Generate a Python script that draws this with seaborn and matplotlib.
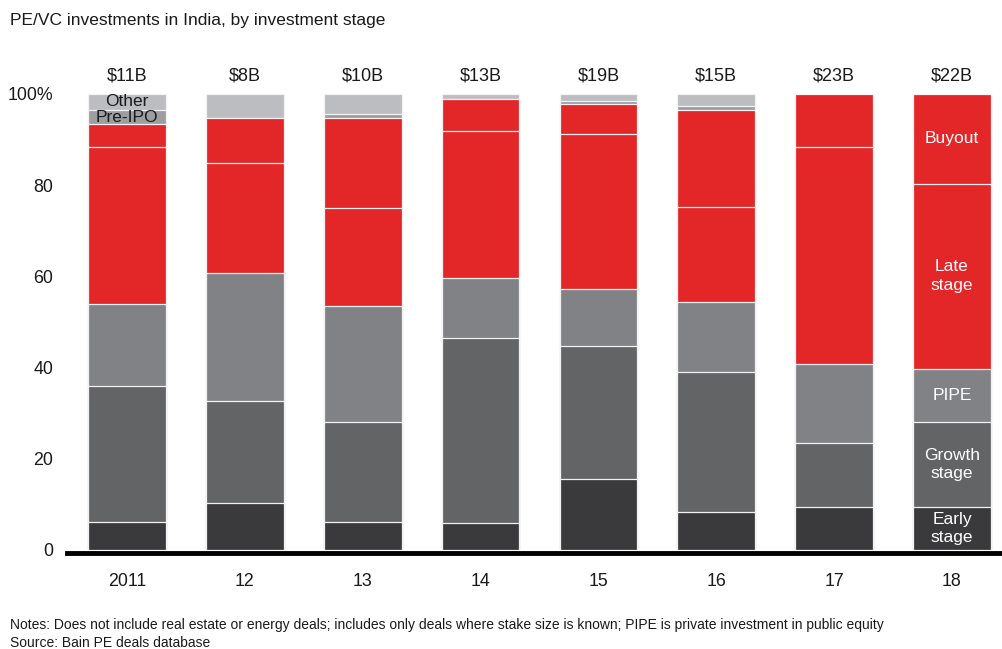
import matplotlib
matplotlib.use("Agg")
import matplotlib.pyplot as plt
import numpy as np
import seaborn as sns

# Deal value share by investment stage (% of annual total)
years = ["2011", "12", "13", "14", "15", "16", "17", "18"]
totals = ["$11B", "$8B", "$10B", "$13B", "$19B", "$15B", "$23B", "$22B"]

early = [6.2, 10.2, 6.1, 5.9, 15.5, 8.3, 9.4, 9.4]
growth = [29.8, 22.4, 22.0, 40.7, 29.3, 30.7, 14.1, 18.7]
pipe = [18.0, 28.1, 25.3, 13.1, 12.4, 15.4, 17.3, 11.7]
late = [34.3, 24.1, 21.7, 32.2, 34.0, 20.8, 47.5, 40.5]
buyout = [5.1, 10.0, 19.6, 6.9, 6.6, 21.2, 11.7, 19.7]
pre_ipo = [3.1, 0.0, 0.9, 0.0, 0.7, 0.9, 0.0, 0.0]
other = [3.5, 5.2, 4.4, 1.2, 1.5, 2.7, 0.0, 0.0]

stage_names = ["Early\nstage", "Growth\nstage", "PIPE", "Late\nstage", "Buyout", "Pre-IPO", "Other"]
stage_values = [early, growth, pipe, late, buyout, pre_ipo, other]
stage_colors = ["#3a3a3c", "#636466", "#818285", "#e32628", "#e32628", "#9d9ea1", "#bcbdc0"]

sns.set_theme(style="white")
plt.rcParams["font.family"] = ["Liberation Sans", "DejaVu Sans"]

fig = plt.figure(figsize=(10.03, 6.49), dpi=100)
fig.patch.set_facecolor("white")
ax = fig.add_axes([67 / 1003, 99 / 649, 1 - 67 / 1003, 456 / 649])

vals = np.array(stage_values)
cum = np.cumsum(vals, axis=0)

# Stack by drawing cumulative totals from the top layer down
for k in range(len(stage_names) - 1, -1, -1):
    sns.barplot(x=years, y=cum[k], color=stage_colors[k], width=0.66,
                edgecolor="#f2f2f2", linewidth=0.9, saturation=1, ax=ax,
                order=years)

ax.set_xlim(-0.509, 7.433)
ax.set_ylim(0, 100)
ax.set_xlabel("")
ax.set_ylabel("")
ax.set_yticks([0, 20, 40, 60, 80, 100])
ax.set_yticklabels(["0", "20", "40", "60", "80", "100%"])
ax.tick_params(axis="y", length=0, pad=10, labelsize=12.8, labelcolor="#1a1a1a")
ax.tick_params(axis="x", length=0, pad=14, labelsize=12.8, labelcolor="#1a1a1a")

for side in ["top", "right", "left"]:
    ax.spines[side].set_visible(False)
ax.spines["bottom"].set_color("black")
ax.spines["bottom"].set_linewidth(3.5)
ax.spines["bottom"].set_position(("outward", 2.5))

# Annual totals above each bar
for i, t in enumerate(totals):
    ax.text(i, 104.0, t, ha="center", va="center", fontsize=13,
            color="#1a1a1a", clip_on=False)

# Stage labels on the last bar
last = len(years) - 1
for k in range(5):
    lo = cum[k][last] - vals[k][last]
    mid = lo + vals[k][last] / 2
    ax.text(last, mid, stage_names[k], ha="center", va="center",
            fontsize=12.5, color="white", linespacing=1.3)

# Small segment labels on the first bar
for k in (5, 6):
    lo = cum[k][0] - vals[k][0]
    mid = lo + vals[k][0] / 2
    ax.text(0, mid, stage_names[k], ha="center", va="center",
            fontsize=12.5, color="#1a1a1a", clip_on=False)

fig.text(10 / 1003, 1 - 20 / 649, "PE/VC investments in India, by investment stage",
         ha="left", va="center", fontsize=12.5, color="#1a1a1a")
fig.text(10 / 1003, 1 - 625 / 649,
         "Notes: Does not include real estate or energy deals; includes only deals where stake size is known; PIPE is private investment in public equity",
         ha="left", va="center", fontsize=10, color="#1a1a1a")
fig.text(10 / 1003, 1 - 643 / 649, "Source: Bain PE deals database",
         ha="left", va="center", fontsize=10, color="#1a1a1a")

fig.savefig("out.png", dpi=100, facecolor="white")
